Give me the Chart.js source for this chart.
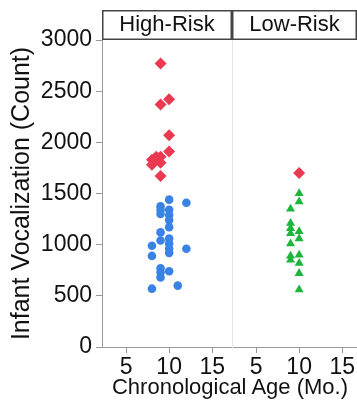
<!DOCTYPE html>
<html>
<head>
<meta charset="utf-8">
<script src="https://cdn.jsdelivr.net/npm/chart.js@4.4.0/dist/chart.umd.min.js"></script>
<style>
body{margin:0;background:#fff;overflow:hidden;width:357px;height:404px;position:relative;font-family:"Liberation Sans",Arial,sans-serif;}
#hrChart{position:absolute;left:0;top:0;}
#lrChart{position:absolute;left:232px;top:0;}
#xTitle{position:absolute;left:80px;top:374px;width:300px;text-align:center;font-size:22px;line-height:26px;color:#111;}
</style>
</head>
<body>
<canvas id="hrChart" width="232" height="404"></canvas>
<canvas id="lrChart" width="125" height="404"></canvas>
<div id="xTitle">Chronological Age (Mo.)</div>
<script>
// axis ticks
var yTicks = [0, 500, 1000, 1500, 2000, 2500, 3000];
var xTicks = [5, 10, 15];

// High-Risk panel : red diamonds
var hrRedAge   = [9, 10, 9, 10, 10, 8, 8.5, 9, 9, 8, 9];
var hrRedCount = [2770, 2420, 2370, 2070, 1910, 1830, 1860, 1860, 1800, 1780, 1670];
// High-Risk panel : blue circles
var hrBlueAge   = [10, 12, 9, 9, 9, 10, 10, 10, 10, 9, 9, 10, 10, 10, 10, 8, 8, 12, 9, 9, 9, 10, 8, 11];
var hrBlueCount = [1440, 1410, 1375, 1340, 1300, 1340, 1290, 1240, 1170, 1120, 1040, 1060, 1010, 960, 920, 990, 890, 960, 770, 730, 680, 740, 570, 600];

// Low-Risk panel : red diamond
var lrRedAge   = [10];
var lrRedCount = [1700];
// Low-Risk panel : green triangles
var lrGreenAge   = [10, 10, 9, 9, 9, 9, 10, 10, 9, 9, 9, 10, 10, 10, 10];
var lrGreenCount = [1500, 1420, 1350, 1210, 1160, 1110, 1130, 1060, 1010, 890, 850, 900, 820, 720, 560];

var RED = '#e93a52', BLUE = '#3a82e6', GREEN = '#1fb43c';
var FAMILY = '"Liberation Sans", Arial, sans-serif';
var FONT = {family: FAMILY, size: 22, weight: 'normal', lineHeight: 1.2};
var TICK_FONT = {family: FAMILY, size: 23, weight: 'normal', lineHeight: 1.2};
var YTITLE_FONT = {family: FAMILY, size: 25, weight: 'normal', lineHeight: 1.2};

function toPoints(ages, counts){
	var pts = [];
	for(var i = 0; i < ages.length; i++){
		pts.push({x: ages[i], y: counts[i]});
	}
	return pts;
}

// box around the panel header (title block)
var headerBox = {
	id: 'headerBox',
	afterDraw: function(chart){
		var b = chart.titleBlock, a = chart.chartArea, ctx = chart.ctx;
		ctx.save();
		ctx.strokeStyle = '#444';
		ctx.lineWidth = 1.5;
		ctx.lineJoin = 'miter';
		ctx.setLineDash([]);
		ctx.strokeRect(a.left + 0.75, b.top + 0.75, a.right - a.left - 1.5, b.height - 1.5);
		ctx.restore();
	}
};

function makeDataset(label, ages, counts, color, style, radius){
	return {
		label: label,
		data: toPoints(ages, counts),
		backgroundColor: color,
		borderWidth: 0,
		pointStyle: style,
		pointRadius: radius,
		pointHoverRadius: radius
	};
}

function panelOptions(title, xMax, showY){
	return {
		responsive: false,
		animation: false,
		layout: {autoPadding: false, padding: {top: 10, left: 0, right: 0, bottom: 0}},
		plugins: {
			legend: {display: false},
			tooltip: {enabled: false},
			title: {
				display: true,
				text: title,
				fullSize: false,
				color: '#111',
				font: FONT,
				padding: {top: 2, bottom: 1.6}
			}
		},
		scales: {
			x: {
				type: 'linear',
				min: 2.2,
				max: xMax,
				afterBuildTicks: function(s){ s.ticks = xTicks.map(function(v){ return {value: v}; }); },
				afterFit: function(s){ s.height = 57; s.paddingLeft = 0; s.paddingRight = 0; },
				grid: {drawOnChartArea: false, tickLength: 6, color: '#999'},
				border: {color: '#999'},
				ticks: {font: TICK_FONT, color: '#111', padding: 1, maxRotation: 0, autoSkip: false,
					callback: function(v){ return String(v); }}
			},
			y: {
				type: 'linear',
				min: 0,
				max: 3000,
				afterBuildTicks: function(s){ s.ticks = yTicks.map(function(v){ return {value: v}; }); },
				afterFit: function(s){ s.width = showY ? 102 : 0; },
				grid: showY ? {drawOnChartArea: false, tickLength: 6, color: '#999'} : {display: false},
				border: {color: showY ? '#999' : '#e6e6e6'},
				ticks: {display: showY, font: TICK_FONT, color: '#111', padding: 4, autoSkip: false,
					callback: function(v){ return String(v); }},
				title: {
					display: showY,
					text: 'Infant Vocalization (Count)',
					color: '#111',
					font: YTITLE_FONT,
					padding: {top: 7}
				}
			}
		}
	};
}

new Chart(document.getElementById('hrChart'), {
	type: 'scatter',
	data: {
		datasets: [
			makeDataset('High-Risk diamond', hrRedAge, hrRedCount, RED, 'rectRot', 6),
			makeDataset('High-Risk circle', hrBlueAge, hrBlueCount, BLUE, 'circle', 4.3)
		]
	},
	options: panelOptions('High-Risk', 17.3, true),
	plugins: [headerBox]
});

new Chart(document.getElementById('lrChart'), {
	type: 'scatter',
	data: {
		datasets: [
			makeDataset('Low-Risk diamond', lrRedAge, lrRedCount, RED, 'rectRot', 6),
			makeDataset('Low-Risk triangle', lrGreenAge, lrGreenCount, GREEN, 'triangle', 5.2)
		]
	},
	options: panelOptions('Low-Risk', 16.72, false),
	plugins: [headerBox]
});
</script>
</body>
</html>
